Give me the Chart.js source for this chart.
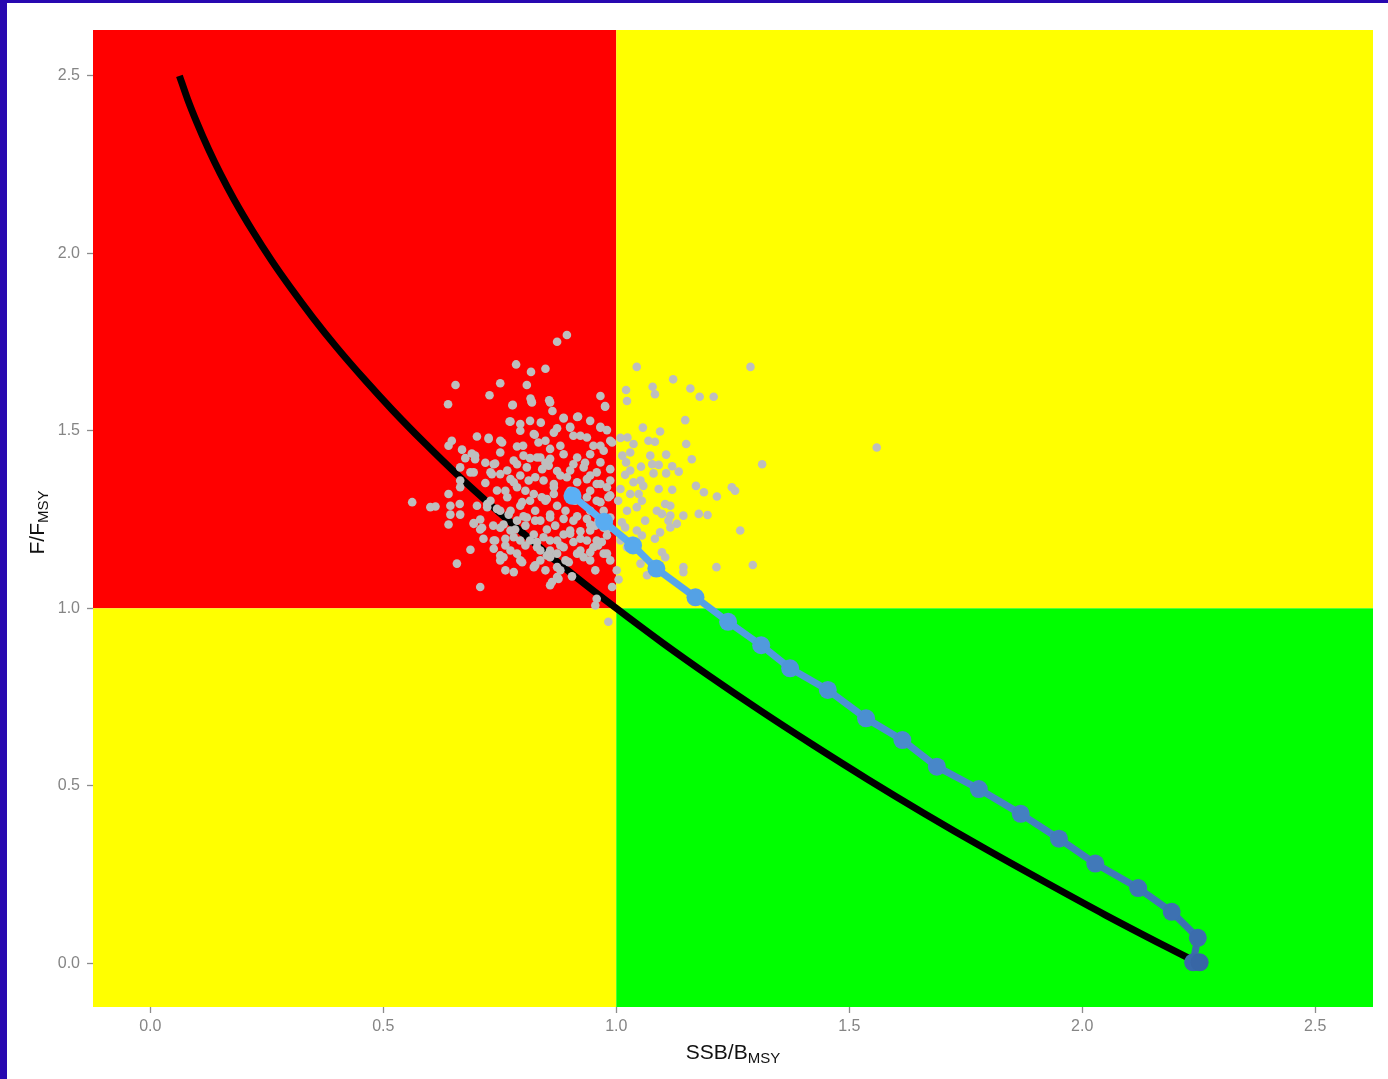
<!DOCTYPE html>
<html><head><meta charset="utf-8">
<script src="https://cdn.jsdelivr.net/npm/chart.js@4"></script>
<style>
html,body{margin:0;padding:0;background:#2808b0;width:1388px;height:1079px;overflow:hidden}
#wrap{position:absolute;left:7px;top:3px;width:1381px;height:1076px;background:#fff}
canvas{display:block}
</style></head><body><div id="wrap"><canvas id="c" width="1381" height="1076"></canvas></div>
<script>
// ---- data ----
const xTicks = [0, 0.5, 1.0, 1.5, 2.0, 2.5];
const yTicks = [0, 0.5, 1.0, 1.5, 2.0, 2.5];
const xRange = [-0.123, 2.624];
const yRange = [-0.123, 2.629];
const refB = 1.0, refF = 1.0;

// equilibrium curve
const curveX = [0.0625, 0.08, 0.10, 0.125, 0.15, 0.18, 0.22, 0.26, 0.30, 0.35, 0.40, 0.46, 0.52, 0.59, 0.66, 0.74, 0.82, 0.91, 1.00, 1.10, 1.20, 1.31, 1.42, 1.54, 1.66, 1.79, 1.92, 2.05, 2.18, 2.24];
const curveY = [2.500, 2.434, 2.368, 2.293, 2.225, 2.151, 2.062, 1.980, 1.905, 1.817, 1.735, 1.644, 1.558, 1.464, 1.375, 1.280, 1.189, 1.092, 1.000, 0.902, 0.809, 0.711, 0.617, 0.518, 0.423, 0.324, 0.229, 0.136, 0.047, 0.007];

// projected trajectory
const pathX = [0.906, 0.974, 1.036, 1.086, 1.170, 1.240, 1.311, 1.373, 1.454, 1.536, 1.614, 1.688, 1.778, 1.868, 1.950, 2.028, 2.120, 2.192, 2.248, 2.238, 2.252];
const pathY = [1.317, 1.244, 1.177, 1.112, 1.031, 0.962, 0.896, 0.831, 0.770, 0.690, 0.629, 0.554, 0.491, 0.421, 0.351, 0.281, 0.212, 0.145, 0.072, 0.003, 0.003];

// simulation cloud
const simX = [0.894,0.873,0.785,0.848,0.817,0.655,0.751,0.808,0.728,0.816,0.818,0.639,0.777,0.856,0.863,0.966,0.976,0.887,0.918,0.771,
0.794,0.815,0.838,0.873,0.901,0.966,0.980,0.825,0.701,0.726,0.751,0.647,0.640,0.787,0.833,0.858,0.908,0.937,0.951,0.987,
0.669,0.690,0.751,0.676,0.697,0.815,0.837,0.887,0.665,0.687,0.740,0.733,0.751,0.787,0.808,0.855,0.873,0.908,0.930,0.966,
0.987,0.665,0.665,0.719,0.744,0.773,0.787,0.826,0.844,0.866,0.894,0.916,0.937,0.966,0.987,0.562,0.601,0.612,0.644,0.664,
0.701,0.723,0.744,0.640,0.766,0.798,0.823,0.851,0.873,0.937,0.966,0.987,0.644,0.665,0.708,0.640,0.694,0.712,0.769,0.787,
0.808,0.837,0.858,0.908,0.937,0.962,0.987,0.708,0.751,0.783,0.823,0.851,0.887,0.923,0.980,0.715,0.740,0.762,0.794,0.830,
0.858,0.908,0.937,0.969,0.687,0.737,0.751,0.773,0.787,0.837,0.851,0.873,0.923,0.951,0.980,0.751,0.798,0.826,0.873,0.898,
0.658,0.873,0.905,0.858,0.708,0.991,0.955,0.983,1.001,
0.778,0.819,0.858,0.976,0.773,0.887,0.916,0.901,0.966,0.726,0.755,0.823,0.866,0.923,0.991,0.697,0.737,0.780,0.801,0.830,
0.858,0.916,0.944,0.973,0.694,0.730,0.766,0.841,0.901,0.958,0.780,0.812,0.866,0.958,0.980,0.723,0.751,0.794,0.815,0.840,
0.866,0.958,0.983,0.694,0.758,0.801,0.826,0.858,0.887,0.916,0.944,0.973,0.737,0.780,0.815,0.844,0.873,0.901,0.923,0.958,
0.980,0.758,0.830,0.858,0.887,0.916,0.944,0.973,0.794,0.823,0.858,0.880,0.930,0.987,0.780,0.862,0.876,0.958,
1.044,1.288,1.122,1.021,1.078,1.083,1.159,1.179,1.209,1.023,1.148,1.057,1.094,1.083,1.069,1.009,1.024,1.037,1.150,1.559,
1.030,1.107,1.162,1.313,1.021,1.053,1.077,1.091,1.120,1.080,1.107,1.134,1.019,1.037,1.058,1.171,1.248,1.255,1.188,1.216,
1.091,1.120,1.009,1.030,1.048,1.055,1.105,1.116,1.087,1.098,1.116,1.144,1.177,1.196,1.023,1.044,1.012,1.019,1.112,1.130,
1.116,1.094,1.083,1.266,1.044,1.055,1.098,1.105,1.144,1.144,1.215,1.293,1.066,1.052,1.005,1.023,1.009,
0.800,0.880,0.966,0.719,0.848,0.933,0.794,0.880,0.944,0.762,0.805,0.901,0.944,0.730,0.848,0.912,0.773,0.826,0.891,0.944,
0.973,0.736,0.805,0.869,0.955,0.773,0.901,0.944,0.762,0.805,0.880,0.961,0.837,0.891,0.944,0.762,0.848,0.955,
1.013,1.030,1.052,1.004,1.062,1.034,1.073,0.794,0.944,0.848];
const simY = [1.770,1.751,1.687,1.675,1.666,1.629,1.634,1.629,1.600,1.591,1.582,1.575,1.572,1.586,1.556,1.598,1.568,1.535,1.540,1.526,
1.519,1.528,1.523,1.507,1.511,1.511,1.502,1.489,1.484,1.477,1.472,1.472,1.458,1.456,1.467,1.449,1.486,1.481,1.458,1.472,
1.447,1.436,1.439,1.423,1.420,1.423,1.425,1.434,1.397,1.383,1.408,1.378,1.378,1.406,1.397,1.402,1.387,1.406,1.397,1.411,
1.392,1.360,1.341,1.353,1.332,1.364,1.341,1.369,1.360,1.341,1.369,1.355,1.364,1.350,1.360,1.299,1.285,1.287,1.289,1.294,
1.289,1.285,1.280,1.322,1.313,1.299,1.322,1.308,1.289,1.313,1.299,1.318,1.264,1.264,1.250,1.236,1.238,1.227,1.264,1.247,
1.256,1.247,1.264,1.247,1.252,1.247,1.256,1.222,1.227,1.222,1.208,1.222,1.208,1.217,1.222,1.196,1.191,1.196,1.191,1.187,
1.191,1.187,1.191,1.187,1.165,1.168,1.149,1.163,1.154,1.163,1.149,1.154,1.163,1.172,1.154,1.135,1.130,1.121,1.116,1.130,
1.126,1.088,1.090,1.065,1.060,1.060,1.008,0.962,1.107,
1.573,1.580,1.580,1.570,1.526,1.537,1.539,1.509,1.509,1.480,1.467,1.491,1.495,1.486,1.467,1.430,1.406,1.416,1.430,1.425,
1.421,1.425,1.434,1.444,1.383,1.383,1.388,1.392,1.388,1.383,1.355,1.360,1.350,1.350,1.341,1.294,1.275,1.289,1.303,1.313,
1.322,1.303,1.313,1.240,1.236,1.259,1.247,1.256,1.252,1.259,1.236,1.227,1.191,1.200,1.191,1.200,1.191,1.210,1.196,1.191,
1.205,1.144,1.172,1.163,1.172,1.154,1.158,1.154,1.135,1.116,1.144,1.107,1.144,1.135,1.102,1.074,1.083,1.027,
1.680,1.680,1.645,1.615,1.624,1.603,1.619,1.596,1.596,1.584,1.530,1.509,1.498,1.469,1.472,1.480,1.481,1.463,1.463,1.453,
1.439,1.433,1.420,1.406,1.411,1.399,1.406,1.404,1.400,1.380,1.380,1.385,1.376,1.355,1.345,1.345,1.341,1.331,1.327,1.315,
1.336,1.334,1.336,1.322,1.322,1.303,1.294,1.289,1.275,1.266,1.261,1.261,1.266,1.263,1.275,1.285,1.242,1.228,1.247,1.238,
1.228,1.214,1.196,1.219,1.219,1.205,1.158,1.144,1.116,1.102,1.116,1.122,1.093,1.126,1.081,1.172,1.191,
1.458,1.458,1.458,1.410,1.410,1.410,1.374,1.374,1.374,1.331,1.331,1.331,1.331,1.303,1.303,1.303,1.275,1.275,1.275,1.275,
1.275,1.233,1.233,1.233,1.233,1.219,1.219,1.219,1.177,1.177,1.177,1.177,1.135,1.135,1.135,1.107,1.107,1.107,
1.430,1.388,1.360,1.303,1.247,1.191,1.430,1.500,1.528,1.472];

// ---- build ----
const zip = (xs, ys) => xs.map((x, i) => ({x, y: ys[i]}));
const c0 = [91, 176, 245], c1 = [56, 102, 165];
const pathColors = pathX.map((_, i) => {
  const t = i / (pathX.length - 1);
  const c = c0.map((v, k) => Math.round(v + (c1[k] - v) * t));
  return `rgb(${c[0]},${c[1]},${c[2]})`;
});

const quadrants = {
  id: 'quadrants',
  beforeDatasetsDraw(chart) {
    const {ctx, chartArea: a, scales: {x, y}} = chart;
    const xm = x.getPixelForValue(refB), ym = y.getPixelForValue(refF);
    ctx.save();
    ctx.fillStyle = '#ff0000'; ctx.fillRect(a.left, a.top, xm - a.left, ym - a.top);
    ctx.fillStyle = '#ffff00'; ctx.fillRect(xm, a.top, a.right - xm, ym - a.top);
    ctx.fillStyle = '#ffff00'; ctx.fillRect(a.left, ym, xm - a.left, a.bottom - ym);
    ctx.fillStyle = '#00ff00'; ctx.fillRect(xm, ym, a.right - xm, a.bottom - ym);
    ctx.restore();
  }
};

const FAM = '"Liberation Sans", Arial, sans-serif';
function subTitle(ctx, main, sub, big, small) {
  ctx.font = `${big}px ${FAM}`;
  const w1 = ctx.measureText(main).width;
  ctx.font = `${small}px ${FAM}`;
  const w2 = ctx.measureText(sub).width;
  return {w1, w2, total: w1 + w2};
}
const axisTitles = {
  id: 'axisTitles',
  afterDraw(chart) {
    const {ctx, chartArea: a} = chart;
    const big = 21, small = 15;
    ctx.save();
    ctx.fillStyle = '#111';
    ctx.textBaseline = 'alphabetic';
    ctx.textAlign = 'left';
    let m = subTitle(ctx, 'SSB/B', 'MSY', big, small);
    let cx = (a.left + a.right) / 2, by = 1056;
    let sx = cx - m.total / 2;
    ctx.font = `${big}px ${FAM}`;
    ctx.fillText('SSB/B', sx, by);
    ctx.font = `${small}px ${FAM}`;
    ctx.fillText('MSY', sx + m.w1, by + 4);
    m = subTitle(ctx, 'F/F', 'MSY', big, small);
    ctx.translate(37, (a.top + a.bottom) / 2 + 4);
    ctx.rotate(-Math.PI / 2);
    sx = -m.total / 2;
    ctx.font = `${big}px ${FAM}`;
    ctx.fillText('F/F', sx, 0);
    ctx.font = `${small}px ${FAM}`;
    ctx.fillText('MSY', sx + m.w1, 4);
    ctx.restore();
  }
};

const tickFont = {family: FAM, size: 16};
const gridOpts = {drawOnChartArea: false, drawTicks: true, tickLength: 6, tickColor: '#8c8c8c', tickWidth: 1.3};

new Chart(document.getElementById('c'), {
  type: 'scatter',
  data: {
    datasets: [
      {
        label: 'equilibrium', data: zip(curveX, curveY), showLine: true,
        borderColor: '#000', borderWidth: 7, pointRadius: 0,
        cubicInterpolationMode: 'monotone', order: 3
      },
      {
        label: 'simulations', data: zip(simX, simY), showLine: false,
        pointRadius: 4.3, pointBackgroundColor: '#bebebe', pointBorderWidth: 0,
        borderColor: '#bebebe', order: 2
      },
      {
        label: 'trajectory', data: zip(pathX, pathY), showLine: true,
        borderWidth: 7, borderColor: pathColors[0],
        segment: {borderColor: ctx => pathColors[ctx.p0DataIndex]},
        pointRadius: 9, pointBackgroundColor: pathColors, pointBorderWidth: 0,
        borderJoinStyle: 'round', order: 1
      }
    ]
  },
  options: {
    responsive: false, animation: false,
    layout: {padding: {left: 0, right: 15, top: 27, bottom: 0}},
    plugins: {legend: {display: false}, tooltip: {enabled: false}},
    scales: {
      x: {
        type: 'linear', min: xRange[0], max: xRange[1],
        afterBuildTicks: ax => { ax.ticks = xTicks.map(v => ({value: v})); },
        afterFit: ax => { ax.height = 72; },
        ticks: {color: '#858585', font: tickFont, padding: 4, callback: v => v.toFixed(1), maxRotation: 0},
        grid: gridOpts, border: {display: false}
      },
      y: {
        type: 'linear', min: yRange[0], max: yRange[1],
        afterBuildTicks: ax => { ax.ticks = yTicks.map(v => ({value: v})); },
        afterFit: ax => { ax.width = 86; },
        ticks: {color: '#858585', font: tickFont, padding: 7, callback: v => v.toFixed(1)},
        grid: gridOpts, border: {display: false}
      }
    }
  },
  plugins: [quadrants, axisTitles]
});
</script></body></html>
